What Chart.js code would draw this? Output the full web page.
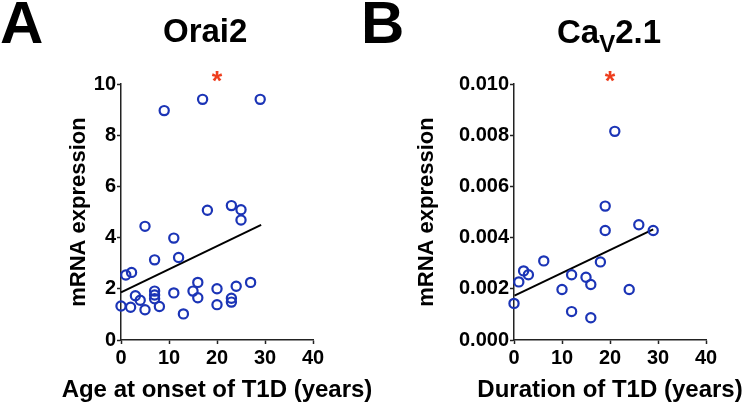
<!DOCTYPE html>
<html lang="en">
<head>
    <meta charset="UTF-8">
    <title>Orai2 / CaV2.1 mRNA expression</title>
    <style>
        body { margin: 0; background: #fff; }
        .wrap { position: relative; width: 743px; height: 409px; overflow: hidden;
                font-family: "Liberation Sans", Arial, sans-serif; font-weight: bold; color: #000; }
        .panel { position: absolute; top: 0; }
        .label { position: absolute; line-height: 1; white-space: nowrap; }
        .letter { font-size: 60px; }
        .title { font-size: 33px; }
        .xtitle { font-size: 24px; width: 400px; text-align: center; top: 377px; }
    </style>
</head>
<body>
    <div class="wrap">
        <canvas id="chart-a" class="panel" style="left:0" width="371" height="409"></canvas>
        <canvas id="chart-b" class="panel" style="left:371px" width="372" height="409"></canvas>
        <div class="label letter" style="left:0; top:-7px">A</div>
        <div class="label letter" style="left:361px; top:-7px">B</div>
        <div class="label title" style="left:163px; top:14px">Orai2</div>
        <div class="label title" style="left:557px; top:15px">Ca<span style="font-size:24px; position:relative; top:9px">V</span>2.1</div>
        <div class="label xtitle" style="left:17px">Age at onset of T1D (years)</div>
        <div class="label xtitle" style="left:410px">Duration of T1D (years)</div>
    </div>

    <script src="https://cdn.jsdelivr.net/npm/chart.js"></script>
    <script>
        // Panel A: Orai2 vs age at onset
        const ageOnset = [9, 17, 29, 23, 25, 18, 25, 5, 11, 7, 12, 1, 2.2, 16, 27, 20, 24, 7, 7, 7, 11, 15, 3, 4, 16, 23, 23, 0, 2, 5, 8, 20, 13];
        const orai2 = [8.96, 9.4, 9.4, 5.25, 5.09, 5.07, 4.69, 4.44, 3.98, 3.13, 3.22, 2.54, 2.64, 2.25, 2.25, 2.0, 2.1, 1.91, 1.76, 1.61, 1.84, 1.91, 1.73, 1.55, 1.65, 1.63, 1.48, 1.33, 1.28, 1.18, 1.31, 1.38, 1.02];
        const fitAx = [0, 29.2];
        const fitAy = [1.86, 4.5];
        const starA = [20, 10.26];

        // Panel B: CaV2.1 vs duration
        const duration = [21, 19, 19, 26, 29, 6.2, 18, 2, 3, 12, 15, 16, 10, 24, 1, 0, 12, 16];
        const cav21 = [0.00815, 0.00523, 0.00428, 0.0045, 0.00428, 0.00309, 0.00305, 0.0027, 0.00255, 0.00255, 0.00245, 0.00217, 0.00197, 0.00197, 0.00227, 0.00143, 0.00111, 0.00087];
        const fitBx = [0.1, 29];
        const fitBy = [0.00173, 0.00432];
        const starB = [20, 0.01026];

        const xTicks = [0, 10, 20, 30, 40];
        const FONT = '"Liberation Sans", Arial, sans-serif';

        function pts(xs, ys) {
            return xs.map((x, i) => ({ x: x, y: ys[i] }));
        }

        // draws the red significance asterisk at a data position
        const starPlugin = {
            id: 'star',
            afterDatasetsDraw(chart, args, opts) {
                const ctx = chart.ctx;
                const px = chart.scales.x.getPixelForValue(opts.at[0]);
                const py = chart.scales.y.getPixelForValue(opts.at[1]);
                ctx.save();
                ctx.fillStyle = '#ee3e1e';
                ctx.font = 'bold 27px ' + FONT;
                ctx.textAlign = 'center';
                ctx.textBaseline = 'alphabetic';
                ctx.fillText('*', px, py + 13);
                ctx.restore();
            }
        };

        function makeChart(id, xs, ys, fx, fy, star, opt) {
            const ctx = document.getElementById(id).getContext('2d');
            return new Chart(ctx, {
                type: 'scatter',
                data: {
                    datasets: [{
                        data: pts(xs, ys),
                        pointStyle: 'circle',
                        pointRadius: 4.6,
                        pointBorderWidth: 2.2,
                        pointBorderColor: '#1b34b6',
                        pointBackgroundColor: 'rgba(0,0,0,0)',
                        clip: false
                    }, {
                        type: 'line',
                        data: pts(fx, fy),
                        borderColor: '#000',
                        borderWidth: 2,
                        pointRadius: 0,
                        fill: false,
                        clip: false
                    }]
                },
                options: {
                    responsive: false,
                    animation: false,
                    devicePixelRatio: 1,
                    layout: { padding: { left: 0, right: opt.padRight, top: 84, bottom: 0 } },
                    plugins: {
                        legend: { display: false },
                        tooltip: { enabled: false },
                        star: { at: star }
                    },
                    scales: {
                        x: {
                            type: 'linear',
                            min: 0,
                            max: 40,
                            afterBuildTicks: s => { s.ticks = xTicks.map(v => ({ value: v })); },
                            afterFit: s => { s.height = 69; },
                            border: { color: '#222', width: 1.5 },
                            grid: { drawOnChartArea: false, tickLength: 4, color: '#222', tickWidth: 1.5 },
                            ticks: { color: '#000', padding: 2, maxRotation: 0, font: { family: FONT, size: 20, weight: 'bold' } }
                        },
                        y: {
                            min: 0,
                            max: opt.yMax,
                            afterFit: s => { s.width = opt.axisLeft; },
                            border: { color: '#222', width: 1.5 },
                            grid: { drawOnChartArea: false, tickLength: 4, color: '#222', tickWidth: 1.5 },
                            ticks: {
                                stepSize: opt.yStep,
                                color: '#000',
                                padding: 1,
                                font: { family: FONT, size: 20, weight: 'bold' },
                                callback: (v, i) => (i % 2 ? '' : opt.fmt(v))
                            },
                            title: {
                                display: true,
                                text: 'mRNA expression',
                                color: '#000',
                                padding: { top: opt.yTitlePad, bottom: 0 },
                                font: { family: FONT, size: 22, weight: 'bold' }
                            }
                        }
                    }
                },
                plugins: [starPlugin]
            });
        }

        makeChart('chart-a', ageOnset, orai2, fitAx, fitAy, starA, {
            yMax: 10, yStep: 1, axisLeft: 121, padRight: 58, yTitlePad: 66,
            fmt: v => String(Math.round(v))
        });

        makeChart('chart-b', duration, cav21, fitBx, fitBy, starB, {
            yMax: 0.01, yStep: 0.001, axisLeft: 143, padRight: 37, yTitlePad: 43,
            fmt: v => v.toFixed(3)
        });
    </script>
</body>
</html>
